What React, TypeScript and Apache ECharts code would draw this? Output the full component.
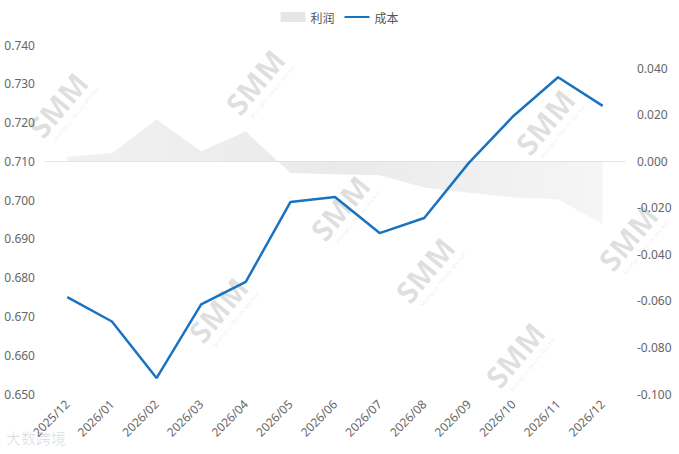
import React, { useEffect, useRef } from "react";
import * as echarts from "echarts";

const categories = ["2025/12","2026/01","2026/02","2026/03","2026/04","2026/05","2026/06","2026/07","2026/08","2026/09","2026/10","2026/11","2026/12"];
const costValues = [0.675, 0.6687, 0.6541, 0.6731, 0.6789, 0.6995, 0.7008, 0.6915, 0.6954, 0.7096, 0.7217, 0.7317, 0.7243];
const profitValues = [0.002, 0.0035, 0.018, 0.0043, 0.0128, -0.005, -0.0056, -0.006, -0.0112, -0.0135, -0.0155, -0.0163, -0.027];
const seriesNames = ["利润", "成本"];
const watermarkSpots = [[58, 105], [255, 82], [340, 208], [545, 122], [425, 270], [218, 310], [515, 355], [628, 238]];

export default function App() {
  const ref = useRef<HTMLDivElement>(null);
  useEffect(() => {
    if (!ref.current) return;
    const chart = echarts.init(ref.current, null, { renderer: "svg" });
    const font = "'Noto Sans', sans-serif";
    const wm: any[] = watermarkSpots.map(([x, y]) => ({
      type: "group",
      x,
      y,
      rotation: Math.PI * 0.28,
      silent: true,
      z: 0,
      children: [
        { type: "text", style: { text: "SMM", x: 0, y: 0, fill: "rgba(0,0,0,0.13)", font: "bold 30px " + font, textAlign: "center", textVerticalAlign: "middle" } },
        { type: "text", style: { text: "Shanghai Metals Market", x: 4, y: 20, fill: "rgba(0,0,0,0.1)", font: "6px " + font, textAlign: "center", textVerticalAlign: "middle" } },
      ],
    }));
    wm.push({ type: "text", left: 6, top: 430, silent: true, style: { text: "大数跨境", fill: "rgba(0,0,0,0.12)", font: "15px 'Noto Sans CJK SC', sans-serif" } });
    chart.setOption({
      animation: false,
      textStyle: { fontFamily: font },
      legend: {
        top: 6,
        left: "center",
        itemWidth: 25,
        itemHeight: 10,
        itemGap: 10,
        textStyle: { color: "#555", fontSize: 12, fontFamily: "'Noto Sans CJK SC', sans-serif" },
        data: [
          { name: seriesNames[0], icon: "rect", itemStyle: { color: "#e6e6e6" } },
          { name: seriesNames[1], icon: "path://M0,4 L25,4 L25,6 L0,6 Z", itemStyle: { color: "#1a73c0" } },
        ],
      },
      grid: { left: 45, right: 54, top: 45, bottom: 60 },
      xAxis: {
        type: "category",
        data: categories,
        boundaryGap: true,
        axisLine: { show: true, lineStyle: { color: "#e5e5e5", width: 1 } },
        axisTick: { show: false },
        axisLabel: { rotate: 45, color: "#666", fontSize: 12, margin: 8, interval: 0 },
      },
      yAxis: [
        {
          type: "value",
          min: 0.65,
          max: 0.74,
          interval: 0.01,
          position: "left",
          splitLine: { show: false },
          axisLine: { show: false },
          axisTick: { show: false },
          axisLabel: { color: "#666", fontSize: 12, margin: 10, formatter: (v: number) => v.toFixed(3) },
        },
        {
          type: "value",
          min: -0.1,
          max: 0.05,
          interval: 0.02,
          position: "right",
          splitLine: { show: false },
          axisLine: { show: false },
          axisTick: { show: false },
          axisLabel: { color: "#666", fontSize: 12, margin: 12, showMaxLabel: false, formatter: (v: number) => v.toFixed(3) },
        },
      ],
      series: [
        {
          name: seriesNames[0],
          type: "line",
          yAxisIndex: 1,
          data: profitValues,
          symbol: "none",
          lineStyle: { width: 0 },
          itemStyle: { color: "#e6e6e6" },
          areaStyle: {
            origin: 0,
            color: new echarts.graphic.LinearGradient(0, 0, 1, 0, [
              { offset: 0, color: "rgba(215,215,215,0.5)" },
              { offset: 0.5, color: "rgba(215,215,215,0.75)" },
              { offset: 1, color: "rgba(215,215,215,0.35)" },
            ]),
          },
          z: 1,
        },
        {
          name: seriesNames[1],
          type: "line",
          yAxisIndex: 0,
          data: costValues,
          symbol: "none",
          lineStyle: { color: "#1a73c0", width: 2.5 },
          itemStyle: { color: "#1a73c0" },
          z: 3,
        },
      ],
      graphic: wm,
    });
    return () => chart.dispose();
  }, []);
  return <div ref={ref} style={{ width: 679, height: 454, position: "absolute", left: 0, top: 0 }} />;
}
